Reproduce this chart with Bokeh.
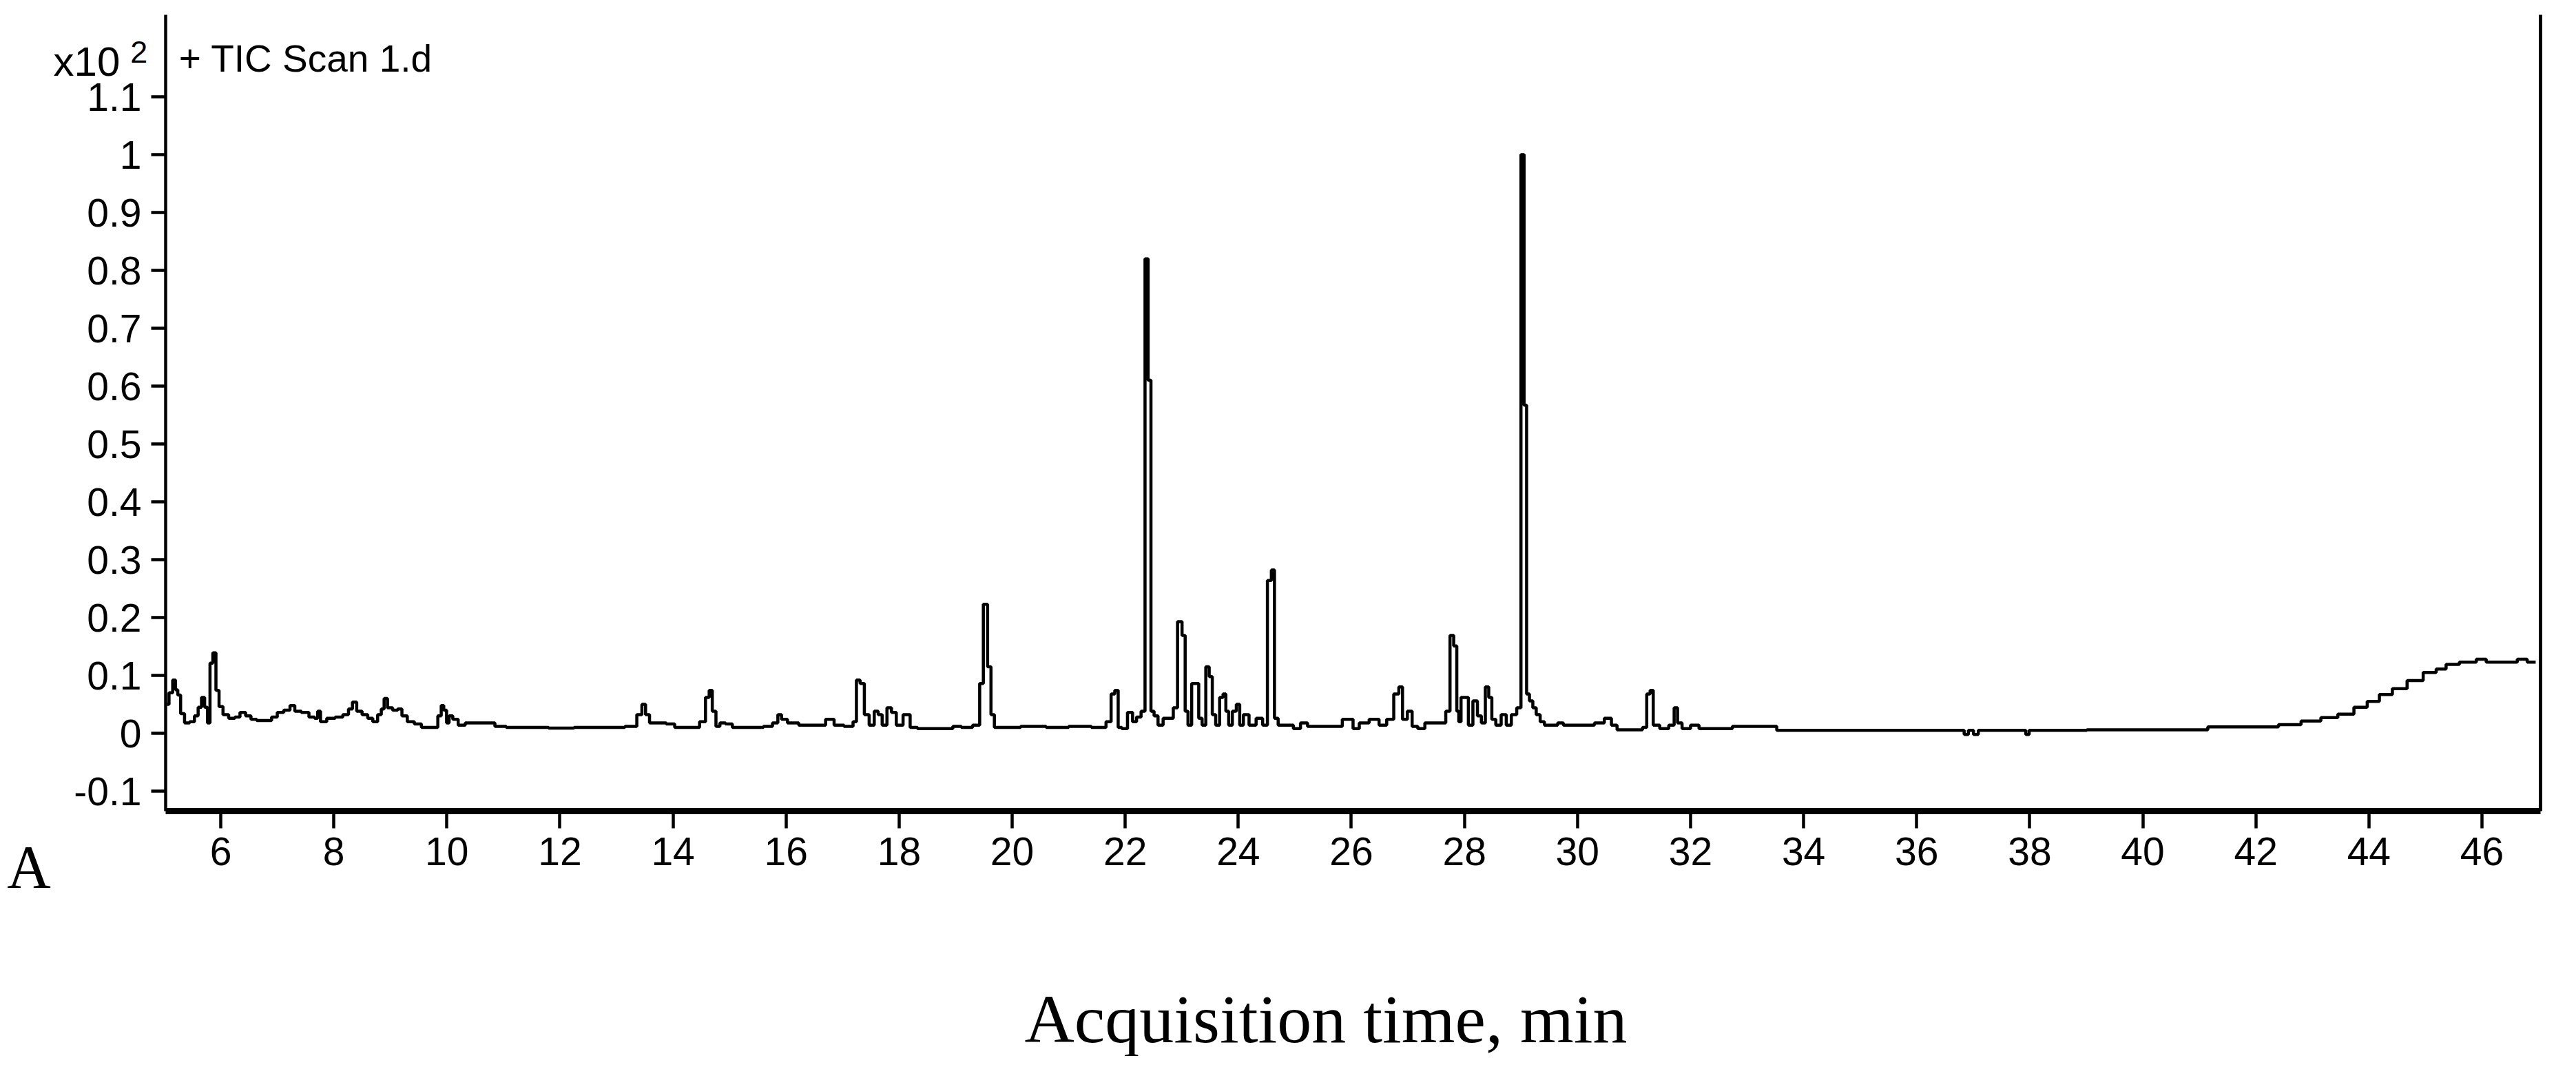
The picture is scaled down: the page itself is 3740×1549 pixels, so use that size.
from bokeh.plotting import figure
from bokeh.models import Range1d, FixedTicker, LinearAxis, Label
from bokeh.embed import file_html
from bokeh.resources import INLINE

# ---- data (acquisition time, min ; abundance x10^2) ----
time_min = [
    5.05, 5.12, 5.18, 5.22, 5.26, 5.32, 5.40, 5.50, 5.57, 5.63, 5.69, 5.74, 5.79, 5.83, 5.89, 5.94,
    6.00, 6.08, 6.20, 6.30, 6.38, 6.50, 6.57, 6.70, 6.85, 6.95, 7.05, 7.18, 7.27, 7.35, 7.50, 7.62,
    7.70, 7.73, 7.80, 7.95, 8.10, 8.22, 8.30, 8.36, 8.45, 8.55, 8.65, 8.73, 8.82, 8.86, 8.92, 8.98,
    9.10, 9.16, 9.25, 9.35, 9.50, 9.60, 9.80, 9.88, 9.92, 9.97, 10.02, 10.06, 10.15, 10.25, 10.40,
    10.80, 10.90, 11.20, 11.60, 12.00, 12.50, 13.00, 13.30,
    13.42, 13.48, 13.55, 13.62, 13.80, 13.96, 14.10, 14.40, 14.54, 14.61, 14.67, 14.72, 14.80, 14.86,
    15.00, 15.10, 15.50, 15.70, 15.82, 15.89, 15.95, 16.10, 16.35, 16.60, 16.80, 16.90, 17.15, 17.22,
    17.27, 17.35, 17.42, 17.52, 17.60, 17.66, 17.74, 17.83, 17.90, 18.00, 18.14, 18.25, 18.40, 18.90,
    19.00, 19.20, 19.40, 19.45, 19.53, 19.60, 19.65, 19.72, 19.90, 20.40, 20.80, 21.20, 21.60, 21.72,
    21.78, 21.85,
    21.90, 21.98, 22.10, 22.16, 22.24, 22.32, 22.38, 22.43, 22.48, 22.54, 22.62, 22.72, 22.82, 22.88,
    22.97, 23.04, 23.08, 23.14, 23.21, 23.28, 23.32, 23.40, 23.45, 23.52, 23.56, 23.64, 23.70, 23.76,
    23.80, 23.86, 23.93, 24.00, 24.05, 24.13, 24.25, 24.38, 24.48, 24.55, 24.62, 24.66, 24.75, 24.90,
    25.05, 25.15, 25.30, 25.70, 25.98, 26.08, 26.20, 26.43, 26.55, 26.70, 26.80, 26.88, 26.93, 27.05,
    27.10, 27.25, 27.35, 27.62, 27.72, 27.77, 27.85, 27.88, 27.92, 27.96, 28.04, 28.10, 28.20, 28.26,
    28.34, 28.40, 28.46, 28.51, 28.60, 28.70, 28.78, 28.88, 28.97, 29.03, 29.08, 29.12, 29.18, 29.24,
    29.30, 29.38, 29.45, 29.60, 29.70, 29.80, 30.20,
    30.40, 30.55, 30.65, 30.75, 31.10, 31.20, 31.25, 31.32, 31.36, 31.55, 31.68, 31.74, 31.80, 31.90,
    32.10, 32.20, 32.70, 32.78, 33.50, 33.55, 36.80, 36.88, 36.95, 37.06, 37.12, 37.90, 37.96, 38.02,
    40.00, 41.10, 41.20, 42.20, 42.60, 43.00, 43.30, 43.60, 43.87, 44.07, 44.30, 44.53, 44.82, 45.10,
    45.28, 45.45, 45.75, 46.05, 46.10, 46.60, 46.65, 46.95,
]
abundance_x100 = [
    0.050, 0.070, 0.092, 0.075, 0.066, 0.034, 0.018, 0.020, 0.030, 0.045, 0.062, 0.045, 0.018, 0.121, 0.139, 0.074,
    0.046, 0.032, 0.026, 0.028, 0.036, 0.030, 0.024, 0.022, 0.022, 0.028, 0.036, 0.040, 0.048, 0.038, 0.036, 0.028,
    0.026, 0.038, 0.020, 0.026, 0.028, 0.032, 0.042, 0.054, 0.038, 0.032, 0.026, 0.020, 0.032, 0.042, 0.060, 0.044,
    0.040, 0.042, 0.030, 0.020, 0.016, 0.010, 0.010, 0.030, 0.048, 0.040, 0.018, 0.030, 0.024, 0.014, 0.018,
    0.018, 0.012, 0.010, 0.010, 0.009, 0.010, 0.010, 0.012,
    0.032, 0.050, 0.032, 0.018, 0.018, 0.016, 0.010, 0.010, 0.020, 0.062, 0.074, 0.038, 0.012, 0.018,
    0.016, 0.010, 0.010, 0.012, 0.018, 0.032, 0.024, 0.018, 0.014, 0.014, 0.024, 0.014, 0.012, 0.020,
    0.092, 0.086, 0.032, 0.014, 0.038, 0.032, 0.014, 0.044, 0.036, 0.014, 0.032, 0.010, 0.008, 0.008,
    0.012, 0.010, 0.014, 0.086, 0.223, 0.115, 0.032, 0.010, 0.010, 0.012, 0.010, 0.012, 0.010, 0.020,
    0.068, 0.074,
    0.010, 0.008, 0.036, 0.020, 0.028, 0.038, 0.820, 0.610, 0.038, 0.030, 0.014, 0.026, 0.026, 0.044,
    0.193, 0.169, 0.038, 0.014, 0.086, 0.086, 0.026, 0.014, 0.115, 0.098, 0.032, 0.014, 0.062, 0.068,
    0.038, 0.014, 0.038, 0.050, 0.014, 0.032, 0.014, 0.026, 0.014, 0.264, 0.282, 0.026, 0.014, 0.014,
    0.008, 0.018, 0.012, 0.012, 0.024, 0.008, 0.018, 0.024, 0.014, 0.024, 0.068, 0.080, 0.024, 0.038,
    0.012, 0.008, 0.018, 0.018, 0.038, 0.169, 0.151, 0.038, 0.020, 0.062, 0.062, 0.014, 0.056, 0.030,
    0.018, 0.080, 0.062, 0.024, 0.014, 0.032, 0.014, 0.032, 0.044, 1.000, 0.567, 0.068, 0.056, 0.044,
    0.032, 0.020, 0.014, 0.014, 0.018, 0.014, 0.014,
    0.018, 0.026, 0.014, 0.006, 0.006, 0.010, 0.068, 0.074, 0.014, 0.008, 0.014, 0.044, 0.018, 0.008,
    0.014, 0.008, 0.008, 0.012, 0.012, 0.005, 0.005, -0.002, 0.005, -0.002, 0.005, 0.005, -0.002, 0.005,
    0.006, 0.006, 0.011, 0.011, 0.015, 0.021, 0.027, 0.033, 0.045, 0.055, 0.067, 0.077, 0.091, 0.105,
    0.111, 0.119, 0.123, 0.128, 0.123, 0.123, 0.128, 0.123,
]

x_ticks = [6, 8, 10, 12, 14, 16, 18, 20, 22, 24, 26, 28, 30, 32, 34, 36, 38, 40, 42, 44, 46]
y_ticks = [-0.1, 0.0, 0.1, 0.2, 0.3, 0.4, 0.5, 0.6, 0.7, 0.8, 0.9, 1.0, 1.1]
y_tick_labels = ["-0.1", "0", "0.1", "0.2", "0.3", "0.4", "0.5", "0.6", "0.7", "0.8", "0.9", "1", "1.1"]

x_title = "Acquisition time, min"
scale_text = "x10"
scale_exp = "2"
trace_name = "+ TIC Scan 1.d"
panel_tag = "A"

SANS = "Liberation Sans"
SERIF = "Liberation Serif"

# axis box (data limits of the drawn axes)
X0, X1 = 5.025, 47.035
Y0, Y1 = -0.1345, 1.2417

p = figure(
    frame_width=3724, frame_height=1533,
    x_range=Range1d(2.1012, 47.4743), y_range=Range1d(-0.55833, 1.26667),
    output_backend="svg", toolbar_location=None,
    min_border=0,
)
p.outline_line_color = None
p.xgrid.visible = False
p.ygrid.visible = False
p.background_fill_color = "white"
p.border_fill_color = "white"

# x axis (drawn at the bottom of the axis box)
xa = p.xaxis[0]
xa.fixed_location = Y0
xa.bounds = (X0, X1)
xa.ticker = FixedTicker(ticks=x_ticks)
xa.axis_line_width = 9
xa.axis_line_color = "black"
xa.major_tick_line_width = 4.5
xa.major_tick_line_color = "black"
xa.major_tick_out = 25
xa.major_tick_in = 0
xa.minor_tick_out = 0
xa.minor_tick_in = 0
xa.major_label_text_font = SANS
xa.major_label_text_font_size = "57px"
xa.major_label_text_color = "black"
xa.major_label_standoff = 14

# y axis (drawn at the left of the axis box)
ya = p.yaxis[0]
ya.fixed_location = X0
ya.bounds = (Y0, Y1)
ya.ticker = FixedTicker(ticks=y_ticks)
ya.major_label_overrides = {v: s for v, s in zip(y_ticks, y_tick_labels)}
ya.axis_line_width = 4.5
ya.axis_line_color = "black"
ya.major_tick_line_width = 4.5
ya.major_tick_line_color = "black"
ya.major_tick_out = 21
ya.major_tick_in = 0
ya.minor_tick_out = 0
ya.minor_tick_in = 0
ya.major_label_text_font = SANS
ya.major_label_text_font_size = "57px"
ya.major_label_text_color = "black"
ya.major_label_standoff = 14

# right border
ra = LinearAxis(ticker=FixedTicker(ticks=[]), axis_line_width=5, axis_line_color="black",
                major_tick_out=0, major_tick_in=0, minor_tick_out=0, minor_tick_in=0,
                major_label_text_font_size="0px", fixed_location=X1, bounds=(Y0, Y1))
p.add_layout(ra, "right")

# trace
p.step(time_min, abundance_x100, mode="center", line_color="black", line_width=4.5)

# texts
p.add_layout(Label(x=3.04, y=1.1602, text=scale_text, text_font=SANS, text_font_size="60px",
                   text_color="black", text_align="left", text_baseline="alphabetic"))
p.add_layout(Label(x=4.40, y=1.1768, text=scale_exp, text_font=SANS, text_font_size="45px",
                   text_color="black", text_align="left", text_baseline="alphabetic"))
p.add_layout(Label(x=5.26, y=1.1655, text=trace_name, text_font=SANS, text_font_size="55px",
                   text_color="black", text_align="left", text_baseline="alphabetic"))
p.add_layout(Label(x=2.22, y=-0.2315, text=panel_tag, text_font=SERIF, text_font_size="88px",
                   text_color="black", text_align="left", text_baseline="alphabetic"))
p.add_layout(Label(x=25.55, y=-0.4940, text=x_title, text_font=SERIF, text_font_size="100px",
                   text_color="black", text_align="center", text_baseline="alphabetic"))

open("out.html", "w").write(file_html(p, INLINE))
